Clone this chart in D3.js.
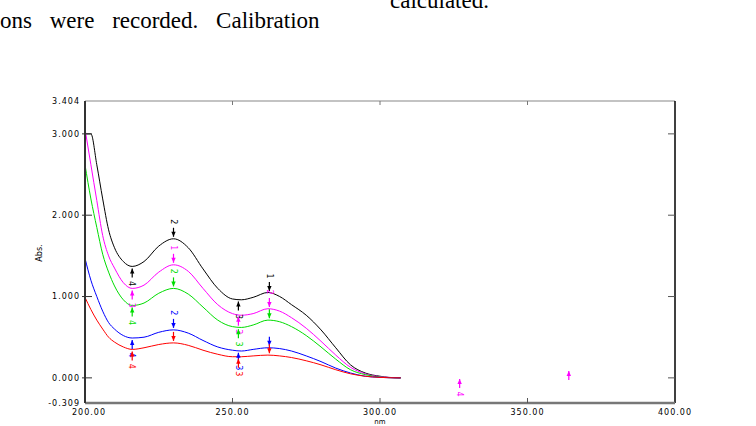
<!DOCTYPE html>
<html>
<head>
<meta charset="utf-8">
<script src="https://cdn.jsdelivr.net/npm/d3@7"></script>
<style>
  body { margin: 0; background: #fff; }
  svg { display: block; }
</style>
</head>
<body>
<svg id="chart" width="756" height="426"></svg>
<script>
// wavelengths shared by every trace (nm)
var wavelengths = [200, 202, 204, 206, 208, 210, 213, 216, 220, 225, 230, 235, 240, 245, 250, 253, 257, 262, 266, 270, 275, 280, 285, 290, 295, 300, 303, 307];

var blackAbs   = [3.00, 3.00, 2.62, 2.20, 1.82, 1.60, 1.43, 1.37, 1.43, 1.62, 1.71, 1.60, 1.34, 1.10, 0.97, 0.96, 0.99, 1.05, 1.00, 0.90, 0.77, 0.59, 0.37, 0.16, 0.06, 0.02, 0.006, 0];
var magentaAbs = [3.06, 2.62, 2.18, 1.75, 1.50, 1.35, 1.17, 1.10, 1.14, 1.30, 1.39, 1.31, 1.10, 0.90, 0.79, 0.77, 0.79, 0.85, 0.82, 0.74, 0.61, 0.45, 0.28, 0.13, 0.05, 0.015, 0.005, 0];
var greenAbs   = [2.62, 2.20, 1.85, 1.52, 1.30, 1.13, 0.96, 0.89, 0.92, 1.04, 1.10, 1.03, 0.87, 0.71, 0.63, 0.62, 0.65, 0.71, 0.69, 0.63, 0.52, 0.38, 0.23, 0.10, 0.04, 0.01, 0.003, 0];
var blueAbs    = [1.47, 1.20, 1.00, 0.82, 0.68, 0.60, 0.52, 0.49, 0.50, 0.56, 0.59, 0.55, 0.46, 0.38, 0.34, 0.33, 0.35, 0.37, 0.36, 0.33, 0.27, 0.20, 0.12, 0.06, 0.02, 0.006, 0.002, 0];
var redAbs     = [0.99, 0.84, 0.71, 0.60, 0.50, 0.44, 0.38, 0.35, 0.37, 0.41, 0.43, 0.40, 0.34, 0.29, 0.26, 0.26, 0.27, 0.28, 0.27, 0.25, 0.21, 0.16, 0.10, 0.05, 0.02, 0.006, 0.002, 0];

// peak pick positions and the numbers printed next to them
var pickNm      = [216, 230, 252, 262.5];
var pickSide    = ["below", "above", "below", "above"];
var blackPicks   = ["4", "2", "3", "1"];
var magentaPicks = ["3", "1", "3", "2"];
var greenPicks   = ["4", "2", "3", ""];
var bluePicks    = ["4", "2", "3", ""];
var redPicks     = ["4", "", "3", ""];

// stray magenta picks out on the baseline
var strayNm     = [327, 364];
var strayAbs    = [-0.04, 0.06];
var strayLabels = ["4", ""];

var yTicks  = [-0.309, 0, 1, 2, 3, 3.404];
var yLabels = ["-0.309", "0.000", "1.000", "2.000", "3.000", "3.404"];
var xTicks  = [200, 250, 300, 350, 400];
var xLabels = ["200.00", "250.00", "300.00", "350.00", "400.00"];

var series = [
  {color: "#000000", values: blackAbs,   picks: blackPicks},
  {color: "#ff00ff", values: magentaAbs, picks: magentaPicks},
  {color: "#00dd00", values: greenAbs,   picks: greenPicks},
  {color: "#0000ff", values: blueAbs,    picks: bluePicks},
  {color: "#ff0000", values: redAbs,     picks: redPicks}
];

var svg = d3.select("#chart");

var plotLeft = 85, plotRight = 675, plotTop = 101, plotBottom = 403;

var x = d3.scaleLinear().domain([200, 400]).range([plotLeft, plotRight]);
var y = d3.scaleLinear().domain([-0.309, 3.404]).range([plotBottom, plotTop]);

// text from the surrounding page
svg.append("text")
   .attr("x", 390).attr("y", 8)
   .style("font-family", "'Liberation Serif', 'Times New Roman', serif")
   .style("font-size", "23px")
   .text("calculated.");

svg.append("text")
   .attr("x", 0).attr("y", 28)
   .style("font-family", "'Liberation Serif', 'Times New Roman', serif")
   .style("font-size", "23px")
   .style("word-spacing", "12px")
   .text("ons were recorded. Calibration");

function interp(values, nm) {
  var i = d3.bisectRight(wavelengths, nm);
  if (i <= 0) return values[0];
  if (i >= wavelengths.length) return values[values.length - 1];
  var t = (nm - wavelengths[i - 1]) / (wavelengths[i] - wavelengths[i - 1]);
  return values[i - 1] + t * (values[i] - values[i - 1]);
}

var line = d3.line()
  .x(function (d) { return x(d[0]); })
  .y(function (d) { return y(d[1]); })
  .curve(d3.curveMonotoneX);

series.forEach(function (s) {
  var pts = wavelengths.map(function (w, i) { return [w, s.values[i]]; });
  svg.append("path")
     .attr("d", line(pts))
     .attr("fill", "none")
     .attr("stroke", s.color)
     .attr("stroke-width", 1);
});

// a pick marker: short stem with an arrow head pointing at the trace
function drawPick(px, py, dir, color, label) {
  var tip = py + dir * 2;
  var end = py + dir * 11;
  svg.append("line")
     .attr("x1", px).attr("x2", px)
     .attr("y1", tip).attr("y2", end)
     .attr("stroke", color)
     .attr("stroke-width", 1.2);
  svg.append("path")
     .attr("d", "M" + px + "," + tip + "L" + (px - 2.2) + "," + (tip + dir * 5) + "L" + (px + 2.2) + "," + (tip + dir * 5) + "Z")
     .attr("fill", color);
  if (label) {
    var ly = py + dir * 17;
    svg.append("text")
       .attr("transform", "translate(" + px + "," + ly + ") rotate(90)")
       .attr("text-anchor", "middle")
       .attr("dy", "0.35em")
       .style("font-family", "'DejaVu Sans', sans-serif")
       .style("font-size", "8px")
       .attr("fill", color)
       .text(label);
  }
}

series.forEach(function (s) {
  pickNm.forEach(function (nm, i) {
    var dir = pickSide[i] === "below" ? 1 : -1;
    drawPick(x(nm), y(interp(s.values, nm)), dir, s.color, s.picks[i]);
  });
});

strayNm.forEach(function (nm, i) {
  drawPick(x(nm), y(strayAbs[i]) - 4, 1, "#ff00ff", strayLabels[i]);
});

// frame
svg.append("line").attr("x1", plotLeft).attr("x2", plotRight).attr("y1", plotTop).attr("y2", plotTop)
   .attr("stroke", "#888").attr("stroke-width", 1.2);
svg.append("line").attr("x1", plotRight).attr("x2", plotRight).attr("y1", plotTop).attr("y2", plotBottom)
   .attr("stroke", "#000").attr("stroke-width", 1.5);
svg.append("line").attr("x1", plotLeft).attr("x2", plotRight).attr("y1", plotBottom).attr("y2", plotBottom)
   .attr("stroke", "#777").attr("stroke-width", 2.5);
svg.append("line").attr("x1", plotLeft).attr("x2", plotLeft).attr("y1", plotTop).attr("y2", plotBottom)
   .attr("stroke", "#333").attr("stroke-width", 2);

// y ticks and labels
var tickFont = "'DejaVu Sans', sans-serif";
yTicks.forEach(function (v, i) {
  var ty = y(v);
  if (i > 0 && i < yTicks.length - 1) {
    svg.append("line").attr("x1", plotLeft - 3).attr("x2", plotLeft + 7).attr("y1", ty).attr("y2", ty)
       .attr("stroke", "#333").attr("stroke-width", 1);
    svg.append("line").attr("x1", plotRight - 7).attr("x2", plotRight).attr("y1", ty).attr("y2", ty)
       .attr("stroke", "#555").attr("stroke-width", 1);
  }
  svg.append("text")
     .attr("x", plotLeft - 5).attr("y", ty).attr("dy", "0.35em")
     .attr("text-anchor", "end")
     .style("font-family", tickFont)
     .style("font-size", "8px")
     .style("letter-spacing", "1px")
     .text(yLabels[i]);
});

xTicks.forEach(function (v, i) {
  var tx = x(v);
  if (i > 0 && i < xTicks.length - 1) {
    svg.append("line").attr("x1", tx).attr("x2", tx).attr("y1", plotBottom).attr("y2", plotBottom - 5)
       .attr("stroke", "#555").attr("stroke-width", 1);
    svg.append("line").attr("x1", tx).attr("x2", tx).attr("y1", plotTop).attr("y2", plotTop + 4)
       .attr("stroke", "#777").attr("stroke-width", 1);
  }
  svg.append("text")
     .attr("x", i === 0 ? tx + 4 : tx).attr("y", plotBottom + 12)
     .attr("text-anchor", "middle")
     .style("font-family", tickFont)
     .style("font-size", "8px")
     .style("letter-spacing", "1px")
     .text(xLabels[i]);
});

svg.append("text")
   .attr("x", (plotLeft + plotRight) / 2).attr("y", plotBottom + 21)
   .attr("text-anchor", "middle")
   .style("font-family", tickFont)
   .style("font-size", "7px")
   .text("nm");

svg.append("text")
   .attr("transform", "translate(42," + 253 + ") rotate(-90)")
   .attr("text-anchor", "middle")
   .style("font-family", tickFont)
   .style("font-size", "8px")
   .text("Abs.");
</script>
</body>
</html>
